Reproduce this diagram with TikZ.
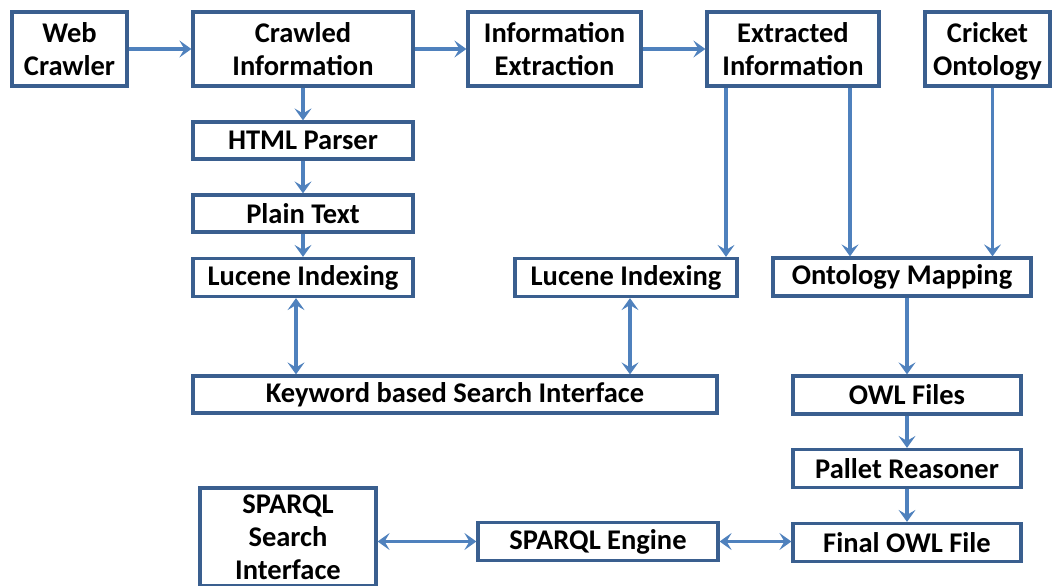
\documentclass[tikz,border=0pt]{standalone}
\usepackage{fontspec}
\setmainfont{Carlito}
\usetikzlibrary{arrows.meta}
\definecolor{boxline}{HTML}{3A5F8F}
\definecolor{arrline}{HTML}{4F81BD}
\begin{document}
\begin{tikzpicture}[x=1pt,y=-1pt,
	blk/.style={draw=boxline,line width=3.2pt,fill=white,inner sep=0pt,align=center,
		font=\fontsize{28.5}{33}\selectfont\bfseries},
	arr/.style={draw=arrline,line width=3.2pt,-{Stealth[length=12pt,width=17pt,inset=5pt]}},
	biarr/.style={arr,{Stealth[length=12pt,width=17pt,inset=5pt]}-{Stealth[length=12pt,width=17pt,inset=5pt]}}]
		\useasboundingbox (0,0) rectangle (1053,586);
		\draw (69.5,49) 	node (wc) [blk,minimum width=115pt,minimum height=74pt] {Web\\Crawler};
		\draw (303,49) 		node (ci) [blk,minimum width=220pt,minimum height=74pt] {Crawled\\Information};
		\draw (554.5,49) 	node (ie) [blk,minimum width=173pt,minimum height=74pt] {Information\\Extraction};
		\draw (793,49) 		node (ei) [blk,minimum width=172pt,minimum height=74pt] {Extracted\\Information};
		\draw (987.5,49) 	node (co) [blk,minimum width=125pt,minimum height=74pt] {Cricket\\Ontolo\smash{gy}};
		\draw (303,140.5) 	node (html) [blk,minimum width=220pt,minimum height=37pt] {HTML Parser};
		\draw (303,213.5) 	node (plain) [blk,minimum width=220pt,minimum height=37pt] {Plain Text};
		\draw (303,277.5) 	node (lucl) [blk,minimum width=220pt,minimum height=38pt] {Lucene Indexing};
		\draw (626,277.5) 	node (lucr) [blk,minimum width=222pt,minimum height=38pt] {Lucene Indexing};
		\draw (902,277) 	node (om) [blk,minimum width=258pt,minimum height=38pt] {Ontology Mapping};
		\draw (455,394.5) 	node (kw) [blk,minimum width=524pt,minimum height=37pt] {Keyword based Search Interface};
		\draw (907,395) 	node (owl) [blk,minimum width=228pt,minimum height=38pt] {OWL Files};
		\draw (907,468.5) 	node (pr) [blk,minimum width=228pt,minimum height=38pt] {Pallet Reasoner};
		\draw (907,542.5) 	node (fo) [blk,minimum width=228pt,minimum height=38pt] {Final OWL File};
		\draw (598,541.5) 	node (se) [blk,minimum width=240pt,minimum height=38pt] {SPARQL Engine};
		\draw (288,537) 	node (ss) [blk,minimum width=176pt,minimum height=98pt] {SPARQL\\Search\\Interface};
		% top row
		\draw (wc) edge[arr] (ci);
		\draw (ci) edge[arr] (ie);
		\draw (ie) edge[arr] (ei);
		% left column
		\draw (ci) edge[arr] (html);
		\draw (html) edge[arr] (plain);
		\draw (plain) edge[arr] (lucl);
		\draw ([xshift=-7pt]lucl.south) edge[biarr] ([xshift=-7pt]lucl.south |- kw.north);
		\draw ([xshift=4pt]lucr.south) edge[biarr] ([xshift=4pt]lucr.south |- kw.north);
		% right side
		\draw ([xshift=-67pt]ei.south) edge[arr] ([xshift=-67pt]ei.south |- lucr.north);
		\draw ([xshift=57pt]ei.south) edge[arr] ([xshift=57pt]ei.south |- om.north);
		\draw ([xshift=5pt]co.south) edge[arr] ([xshift=5pt]co.south |- om.north);
		\draw (om.south -| owl.north) edge[arr] (owl.north);
		\draw (owl) edge[arr] (pr);
		\draw (pr) edge[arr] (fo);
		% bottom row
		\draw (fo.west |- se.east) edge[biarr] (se.east);
		\draw (se.west) edge[biarr] (se.west -| ss.east);
\end{tikzpicture}
\end{document}
